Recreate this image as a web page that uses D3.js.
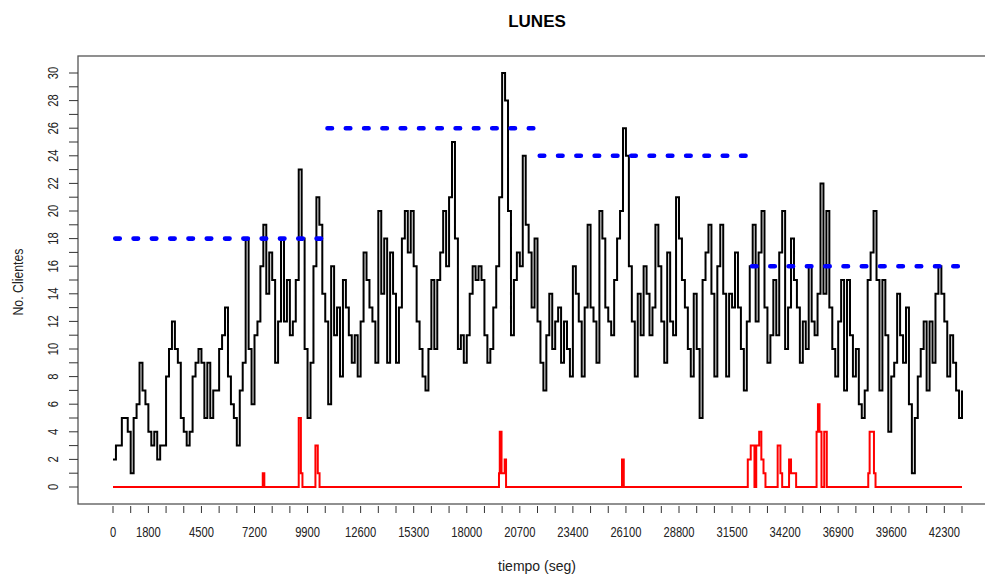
<!DOCTYPE html>
<html><head><meta charset="utf-8">
<script src="https://cdn.jsdelivr.net/npm/d3@7"></script>
<style>body{margin:0;background:#fff}svg{display:block}</style>
</head><body>
<svg id="c" width="985" height="576"></svg>
<script>
// ---- data ----
const stepSec = 150; // sampling interval of the black series (seconds)
const clientes = [
 2,3,3,5,5,4,1,5,6,9, 7,6,4,3,4,2,3,3,8,10, 12,10,9,5,4,3,4,8,9,10, 9,5,9,
 5,7,7,10,11,13,8,6,5,3,7,9,18,10,6,11,12,16,19,14,17,15,9,12,18,12,15,11,12,15,23,18,10,5,9,16,
 21,19,14,12,6,16,11,13,8,15,13,11,9,11,8,12,17,15,13,12,9,20,14,18,9,17,14,9,13,18,20,17,20,16,12,10,
 8,7,10,15,10,15,17,20,16,21,25,18,10,11,9,11,14,16,15,16,15,11,9,10,13,16,21,30,28,20,11,15,17,16,24,19,
 17,13,18,12,9,7,11,14,10,12,13,9,12,10,8,16,14,12,8,13,19,13,12,9,20,18,13,12,11,15,18,20,26,24,16,
 12,8,14,11,16,14,11,13,19,16,12,9,17,12,11,21,18,15,13,10,8,14,10,5,15,17,19,14,8,16,19,14,8,14,13,17,
 13,10,7,12,16,19,12,17,20,13,9,11,15,11,17,20,10,13,18,15,13,9,12,10,16,12,11,14,22,14,20,13,10,8,12,
 15,7,15,11,8,10,6,5,7,15,17,20,15,7,15,11,4,8,9,14,11,9,13,6,1,5,8,10,12,7,12,9,14,16,14,12,8,11,9,7,5,7
];
const redTimes = [0,7620,7700,9450,9560,9640,10300,10420,10510,19640,19680,19770,19930,20000,25900,25990,
 32300,32450,32640,32730,32880,32990,33100,33200,33820,33960,34050,34400,34500,34760,
 35800,35870,35950,36050,36190,36320,38430,38500,38720,38800,43200];
const redValues = [0,1,0,5,1,0,3,1,0,1,4,1,2,0,2,0,2,3,0,3,4,2,1,0,3,1,0,2,1,0,4,6,4,0,4,0,1,4,1,0,0];
const avgStart = [0,10800,21600,32400];
const avgEnd = [10800,21600,32400,43200];
const avgValues = [18,26,24,16];
const xTickStep = 900;
const xTickLabels = ["0","1800","4500","7200","9900","12600","15300","18000","20700","23400","26100","28800","31500","34200","36900","39600","42300"];
const yTickLabels = ["0","2","4","6","8","10","12","14","16","18","20","22","24","26","28","30"];
const titleText = "LUNES", xLabel = "tiempo (seg)", yLabel = "No. Clientes";

// ---- scales ----
const tMax = 43200;
const x = d3.scaleLinear().domain([0, tMax]).range([113, 962]);
const y = d3.scaleLinear().domain([0, 30]).range([487, 73]);
const svg = d3.select("#c");
const font = "'Liberation Sans', Arial, sans-serif";

// box
svg.append("rect").attr("x",78).attr("y",56).attr("width",918).attr("height",448)
  .attr("fill","none").attr("stroke","#555").attr("stroke-width",1.3);

// title
svg.append("text").attr("x",537).attr("y",27).attr("text-anchor","middle")
  .attr("font-family",font).attr("font-weight","bold").attr("font-size",17).text(titleText);

// x axis ticks (no line)
const xTicks = d3.range(0, tMax + 1, xTickStep);
svg.append("g").selectAll("line").data(xTicks).join("line")
  .attr("x1",d=>x(d)).attr("x2",d=>x(d)).attr("y1",506).attr("y2",513)
  .attr("stroke","#333").attr("stroke-width",1);
svg.append("g").selectAll("text").data(xTickLabels).join("text")
  .attr("transform",d=>`translate(${x(+d)},537) scale(0.8,1)`).attr("text-anchor","middle")
  .attr("font-family",font).attr("font-size",14).attr("fill","#222").text(d=>d);
svg.append("text").attr("x",537).attr("y",571).attr("text-anchor","middle")
  .attr("font-family",font).attr("font-size",14).attr("fill","#222").text(xLabel);

// y axis
const yTicks = d3.range(0, 31, 1);
svg.append("g").selectAll("line").data(yTicks).join("line")
  .attr("x1",69).attr("x2",78).attr("y1",d=>y(d)).attr("y2",d=>y(d))
  .attr("stroke","#333").attr("stroke-width",1);
svg.append("g").selectAll("text").data(yTickLabels).join("text")
  .attr("transform",d=>`translate(58,${y(+d)}) rotate(-90) scale(0.8,1)`).attr("text-anchor","middle")
  .attr("font-family",font).attr("font-size",14).attr("fill","#222").text(d=>d);
svg.append("text").attr("transform",`translate(23,282) rotate(-90) scale(0.88,1)`).attr("text-anchor","middle")
  .attr("font-family",font).attr("font-size",14).attr("fill","#222").text(yLabel);

// black series
const blackData = clientes.map((v,i)=>[i*stepSec, v]);
const line = d3.line().x(d=>x(d[0])).y(d=>y(d[1])).curve(d3.curveStepAfter);
svg.append("path").datum(blackData).attr("d",line).attr("fill","none")
  .attr("stroke","#000").attr("stroke-width",2);

// red series
const redData = redTimes.map((t,i)=>[t, redValues[i]]);
svg.append("path").datum(redData).attr("d",line).attr("fill","none")
  .attr("stroke","#ff0000").attr("stroke-width",2);

// blue average segments
svg.append("g").selectAll("line").data(avgValues).join("line")
  .attr("x1",(d,i)=>x(avgStart[i])).attr("x2",(d,i)=>x(avgEnd[i]))
  .attr("y1",d=>y(d)).attr("y2",d=>y(d))
  .attr("stroke","#0000ff").attr("stroke-width",4.6)
  .attr("stroke-dasharray","4.5,13.8").attr("stroke-linecap","round")
  .attr("stroke-dashoffset",-2.25);
</script>
</body></html>
